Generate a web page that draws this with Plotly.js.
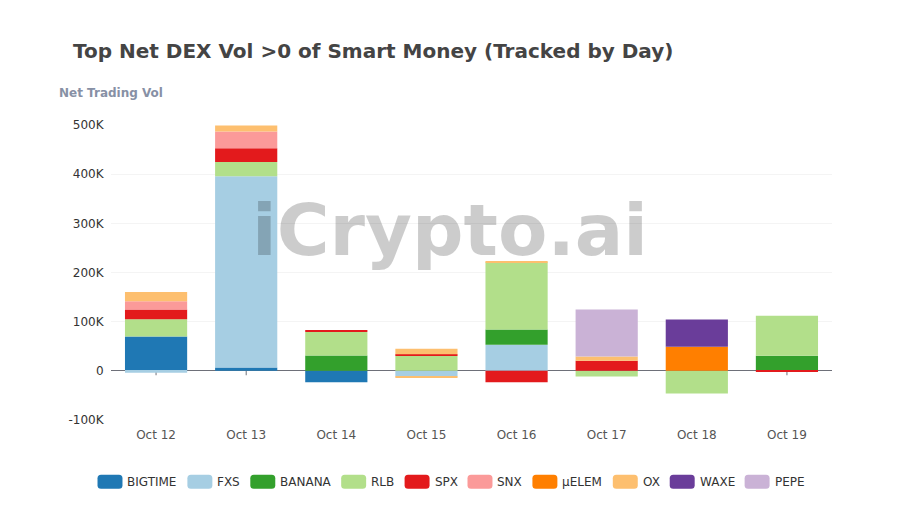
<!DOCTYPE html>
<html><head><meta charset="utf-8">
<script src="https://cdn.plot.ly/plotly-3.0.1.min.js"></script>
<style>html,body{margin:0;padding:0;background:#fff}#c{width:900px;height:510px}</style>
</head><body><div id="c"></div>
<script>
const days = ["Oct 12","Oct 13","Oct 14","Oct 15","Oct 16","Oct 17","Oct 18","Oct 19"];
const BIGTIME = [69800, 6800, -23000, 0, 0, 0, 0, 0];
const FXS     = [-4000, 389000, 0, -11500, 52900, 0, 0, 0];
const BANANA  = [0, 0, 31000, 0, 31000, 0, 0, 30500];
const RLB     = [35000, 29000, 48000, 30500, 137000, -11500, -46000, 81500];
const SPX     = [19700, 28000, 3000, 3000, -23000, 20300, 0, -1500];
const SNX     = [17000, 34000, 0, 0, 0, 0, 0, 0];
const ELEM    = [0, 0, 0, 0, 0, 0, 48800, 0];
const OX      = [19000, 12000, 0, 11500, 2000, 9000, 0, 0];
const OXneg   = [0, 0, 0, -2500, 0, 0, 0, 0];
const WAXE    = [0, 0, 0, 0, 0, 0, 55600, 0];
const PEPE    = [0, 0, 0, 0, 0, 95600, 0, 0];
const yTicks = [-100000, 0, 100000, 200000, 300000, 400000, 500000];
const yLabels = ["-100K","0","100K","200K","300K","400K","500K"];
const seriesNames = ["BIGTIME","FXS","BANANA","RLB","SPX","SNX","μELEM","OX","WAXE","PEPE"];
const seriesColors = ["#1f78b4","#a6cee3","#33a02c","#b2df8a","#e31a1c","#fb9a99","#ff7f00","#fdbf6f","#6a3d9a","#cab2d6"];
const seriesValues = [BIGTIME,FXS,BANANA,RLB,SPX,SNX,ELEM,OX,WAXE,PEPE];
const legendLeft = [97,187,250,341,404.5,467.5,532.5,613,670,745];

const traces = seriesNames.map((n,i)=>({type:"bar",name:n,x:days,y:seriesValues[i],
  marker:{color:seriesColors[i],line:{width:0}},hoverinfo:"x+y+name"}));
traces.push({type:"bar",name:"OX",x:days,y:OXneg,marker:{color:seriesColors[7],line:{width:0}},showlegend:false});

const W=900,H=510, L=110.5, R=832.5, T=124.6, B=419.8;
const px=v=>(v-L)/(R-L), py=v=>(B-v)/(B-T);
const shapes = days.map(d=>({type:"line",layer:"below",xref:"x",yref:"y",x0:d,x1:d,y0:0,y1:-9000,line:{color:"#6e7079",width:1}}));
const annotations = [
 {xref:"paper",yref:"paper",x:px(450),y:py(229.5),xanchor:"center",yanchor:"middle",showarrow:false,
  text:"iCrypto.ai",font:{family:"DejaVu Sans",size:72,weight:"bold",color:"rgba(0,0,0,0.2)"}},
 {xref:"paper",yref:"paper",x:px(58),y:py(92.5),xanchor:"left",yanchor:"middle",showarrow:false,xshift:-2,
  text:"Net Trading Vol",font:{family:"DejaVu Sans",size:12,weight:"bold",color:"#8790a5"}}
];
seriesNames.forEach((n,i)=>{
  const l=legendLeft[i], r=l+25, t=474.5, b=488.5, c=3.5;
  const X=px, Y=py;
  const path=`M${X(l+c)},${Y(t)} L${X(r-c)},${Y(t)} Q${X(r)},${Y(t)} ${X(r)},${Y(t+c)} L${X(r)},${Y(b-c)} Q${X(r)},${Y(b)} ${X(r-c)},${Y(b)} L${X(l+c)},${Y(b)} Q${X(l)},${Y(b)} ${X(l)},${Y(b-c)} L${X(l)},${Y(t+c)} Q${X(l)},${Y(t)} ${X(l+c)},${Y(t)} Z`;
  shapes.push({type:"path",xref:"paper",yref:"paper",path:path,fillcolor:seriesColors[i],line:{width:0},layer:"above"});
  annotations.push({xref:"paper",yref:"paper",x:px(r+3),y:py(482),xanchor:"left",yanchor:"middle",showarrow:false,
    text:n,font:{family:"DejaVu Sans",size:12,color:"#333"}});
});

Plotly.newPlot("c",traces,{
  width:W,height:H,barmode:"relative",bargap:0.31,showlegend:false,
  paper_bgcolor:"#fff",plot_bgcolor:"#fff",
  font:{family:"DejaVu Sans",size:12,color:"#333"},
  margin:{l:L,r:W-R,t:T,b:H-B,pad:0},
  title:{text:"Top Net DEX Vol >0 of Smart Money (Tracked by Day)",x:73/900,xanchor:"left",xref:"container",
    y:1-51/510,yanchor:"middle",yref:"container",font:{family:"DejaVu Sans",size:20,weight:"bold",color:"#444"}},
  xaxis:{type:"category",categoryorder:"array",categoryarray:days,showgrid:false,zeroline:false,showline:false,
    ticks:"outside",ticklen:4,tickcolor:"rgba(0,0,0,0)",tickfont:{size:12,color:"#555"}},
  yaxis:{range:[-100000,500000],tickmode:"array",tickvals:yTicks,ticktext:yLabels,gridcolor:"#f4f4f4",gridwidth:1,
    zeroline:true,zerolinecolor:"#6e7079",zerolinewidth:1,showline:false,
    ticks:"outside",ticklen:4,tickcolor:"rgba(0,0,0,0)",tickfont:{size:12,color:"#333"}},
  shapes:shapes,annotations:annotations
},{displayModeBar:false});
</script></body></html>
